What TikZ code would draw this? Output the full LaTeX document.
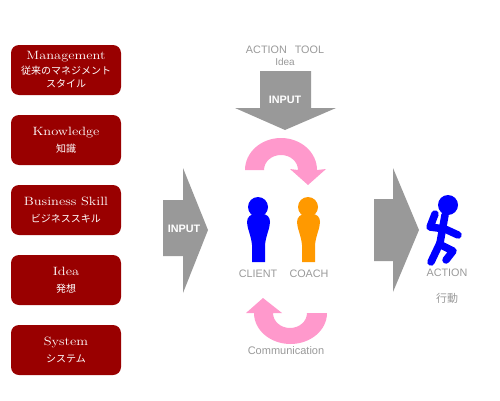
\documentclass[tikz,border=0pt]{standalone}
\usepackage{fontspec}
\newfontfamily\jpfont{Noto Sans CJK JP}
\newfontfamily\labelfont{Liberation Sans}
\newfontfamily\titlefont[FakeStretch=1.2]{Latin Modern Roman}
\definecolor{boxred}{HTML}{990000}
\definecolor{arrowgray}{HTML}{999999}
\definecolor{turnpink}{HTML}{FF99CC}
\definecolor{coachorange}{HTML}{FF9900}
\tikzset{
  itembox/.style={fill=boxred,rounded corners=8pt,minimum width=110pt,minimum height=50pt,
    inner sep=0pt,text=white,align=center,font=\titlefont\fontsize{12}{15}\selectfont},
  graylabel/.style={text=arrowgray,inner sep=0pt,font=\labelfont\fontsize{10.8}{12}\selectfont},
  inputlabel/.style={text=white,inner sep=0pt,font=\labelfont\bfseries\fontsize{10.8}{12}\selectfont},
  bigarrow/.style={fill=arrowgray},
  turnarrow/.style={fill=turnpink},
  runnerline/.style={draw=blue,line width=7.5pt,line cap=round,line join=round}
}
\newcommand{\jp}[1]{{\jpfont\fontsize{10}{12}\selectfont #1}}
\begin{document}
\begin{tikzpicture}[x=1pt,y=1pt]
  \useasboundingbox (0,0) rectangle (500,400);
  % ---------- Left column of boxes ----------
  \node[itembox] (management) at (66,330) {Management\\[0pt]\jp{従来のマネジメント}\\[-2pt]\jp{スタイル}};
  \node[itembox] (knowledge) at (66,260) {Knowledge\\[2pt]\jp{知識}};
  \node[itembox] (business) at (66,190) {Business Skill\\[2pt]\jp{ビジネススキル}};
  \node[itembox] (idea) at (66,120) {Idea\\[2pt]\jp{発想}};
  \node[itembox] (system) at (66,50) {System\\[2pt]\jp{システム}};

  % ---------- Gray arrows ----------
  \draw[bigarrow,draw=none] (163,200) -- (183,200) -- (183,232) -- (208,170) -- (183,107) -- (183,144) -- (163,144) -- cycle;
  \node[inputlabel] (leftinput) at (184,171) {INPUT};
  \draw[bigarrow,draw=none] (260,329) -- (311,329) -- (311,292) -- (336,292) -- (285,270) -- (235,292) -- (260,292) -- cycle;
  \node[inputlabel] (topinput) at (285,300) {INPUT};
  \node[graylabel] (tool) at (285,350) {ACTION\hspace{8pt}TOOL};
  \node[graylabel,font=\labelfont\fontsize{10}{12}\selectfont] (toolidea) at (285,338) {Idea};
  \draw[bigarrow,draw=none] (374,201) -- (393,201) -- (393,232) -- (419,170) -- (393,108) -- (393,139) -- (374,139) -- cycle;

  % ---------- Pink turning arrows ----------
  \fill[turnarrow] (245,230) arc[start angle=180,end angle=0,x radius=36,y radius=32]
    -- (326,231) -- (308,215) -- (290,231) -- (298,230)
    arc[start angle=0,end angle=180,x radius=17,y radius=15] -- cycle;
  \fill[turnarrow] (327,87) arc[start angle=0,end angle=-180,x radius=36.5,y radius=31]
    -- (246,87) -- (263,102) -- (282,87) -- (273,87)
    arc[start angle=180,end angle=360,x radius=17,y radius=15] -- cycle;
  \node[graylabel,font=\labelfont\fontsize{11}{12}\selectfont] (communication) at (286,49) {Communication};

  % ---------- Client and coach ----------
  \fill[blue] (258,193) circle (10);
  \fill[blue] (252,138) -- (252,155) .. controls (251,165) and (247,172) .. (247,178)
    .. controls (247,183) and (251,186) .. (255,186) -- (262,186)
    .. controls (267,186) and (270,183) .. (270,178)
    .. controls (270,172) and (266,165) .. (265,155) -- (265,138) -- cycle;
  \node[graylabel] (client) at (258,126) {CLIENT};
  \fill[coachorange] (308,193) circle (10);
  \fill[coachorange] (302,138) -- (302,155) .. controls (301,165) and (297,172) .. (297,178)
    .. controls (297,183) and (301,186) .. (305,186) -- (312,186)
    .. controls (317,186) and (320,183) .. (320,178)
    .. controls (320,172) and (316,165) .. (315,155) -- (315,138) -- cycle;
  \node[graylabel] (coach) at (309,126) {COACH};

  % ---------- Running figure ----------
  \fill[blue] (448,195) circle (10);
  \draw[runnerline] (445,185) -- (440,157);
  \draw[runnerline] (435,186) -- (430,173) -- (445,171) -- (458,165);
  \draw[runnerline] (440,157) -- (431,138);
  \draw[runnerline] (441,155) -- (453,149) -- (446,140);
  \node[graylabel] (action) at (447,127) {ACTION};
  \node[text=arrowgray,inner sep=0pt,font=\jpfont\fontsize{11}{12}\selectfont] (actionjp) at (447,102) {行動};
\end{tikzpicture}
\end{document}
